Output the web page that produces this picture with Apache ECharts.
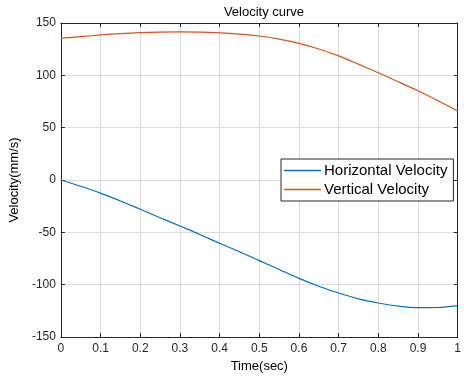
<!DOCTYPE html>
<html>
<head>
<meta charset="utf-8">
<script src="https://cdn.jsdelivr.net/npm/echarts@6/dist/echarts.min.js"></script>
<style>
  html, body { margin: 0; padding: 0; background: #fff; }
  #chart { width: 464px; height: 378px; }
</style>
</head>
<body>
<div id="chart"></div>
<script>
// time samples (sec)
const timeSec = [0, 0.05, 0.1, 0.15, 0.2, 0.25, 0.3, 0.35, 0.4, 0.45, 0.5,
  0.55, 0.6, 0.65, 0.7, 0.75, 0.8, 0.85, 0.9, 0.95, 1.0];
// velocities (mm/s)
const horizontal = [0, -6, -12.5, -20, -28, -36, -44, -52, -60.5, -68.5, -77,
  -85.5, -94, -101.5, -108, -113.5, -117.5, -120.5, -122, -121.8, -120];
const vertical = [135.5, 137, 138.6, 139.9, 140.8, 141.3, 141.5, 141.3, 140.6, 139.4, 137.6,
  134.6, 130.6, 125.2, 118.6, 110.7, 102.4, 93.9, 85.2, 75.8, 66];

const font = "Liberation Sans, Arial, sans-serif";
const ink = "#262626";

const chart = echarts.init(document.getElementById("chart"), null, { renderer: "canvas" });

const pairs = (ys) => timeSec.map((t, i) => [t, ys[i]]);

// shared axis look (MATLAB style box with inner ticks)
const axisLine = { show: true, onZero: false, lineStyle: { color: ink, width: 1 } };
const axisTick = { show: true, inside: true, length: 4, lineStyle: { color: ink } };

chart.setOption({
  animation: false,
  title: {
    text: "Velocity curve",
    left: 259,
    textAlign: "center",
    top: 1,
    textStyle: { fontFamily: font, fontSize: 13, fontWeight: "normal", color: "#000" }
  },
  grid: { left: 60, right: 6, top: 23, bottom: 41, containLabel: false },
  legend: {
    orient: "vertical",
    left: 281,
    top: 159,
    padding: [4, 6, 4, 3],
    itemGap: 4,
    itemWidth: 37,
    itemHeight: 1.5,
    icon: "rect",
    backgroundColor: "#fff",
    borderColor: ink,
    borderWidth: 1,
    textStyle: { fontFamily: font, fontSize: 15, color: "#000", padding: [0, 0, 0, -2], lineHeight: 15 },
    data: ["Horizontal Velocity", "Vertical Velocity"]
  },
  xAxis: [
    {
      type: "value",
      min: 0,
      max: 1,
      interval: 0.1,
      name: "Time(sec)",
      nameLocation: "middle",
      nameGap: 22,
      nameTextStyle: { fontFamily: font, fontSize: 13, color: "#000" },
      axisLine, axisTick,
      axisLabel: {
        fontFamily: font, fontSize: 12, color: ink, margin: 6,
        formatter: (v) => String(Math.round(v * 10) / 10)
      },
      splitLine: { show: true, lineStyle: { color: "#dedede", width: 1 } }
    },
    {
      type: "value", position: "top", min: 0, max: 1, interval: 0.1,
      axisLine, axisTick, axisLabel: { show: false }, splitLine: { show: false }
    }
  ],
  yAxis: [
    {
      type: "value",
      min: -150,
      max: 150,
      interval: 50,
      name: "Velocity(mm/s)",
      nameLocation: "middle",
      nameGap: 34,
      nameTextStyle: { fontFamily: font, fontSize: 13, color: "#000" },
      axisLine, axisTick,
      axisLabel: { fontFamily: font, fontSize: 12, color: ink, margin: 5 },
      splitLine: { show: true, lineStyle: { color: "#dedede", width: 1 } }
    },
    {
      type: "value", position: "right", min: -150, max: 150, interval: 50,
      axisLine, axisTick, axisLabel: { show: false }, splitLine: { show: false }
    }
  ],
  series: [
    {
      name: "Horizontal Velocity",
      type: "line",
      data: pairs(horizontal),
      smooth: 0.3,
      symbol: "none",
      color: "#0072BD",
      lineStyle: { width: 1.2 }
    },
    {
      name: "Vertical Velocity",
      type: "line",
      data: pairs(vertical),
      smooth: 0.3,
      symbol: "none",
      color: "#D95319",
      lineStyle: { width: 1.2 }
    }
  ]
});
</script>
</body>
</html>
